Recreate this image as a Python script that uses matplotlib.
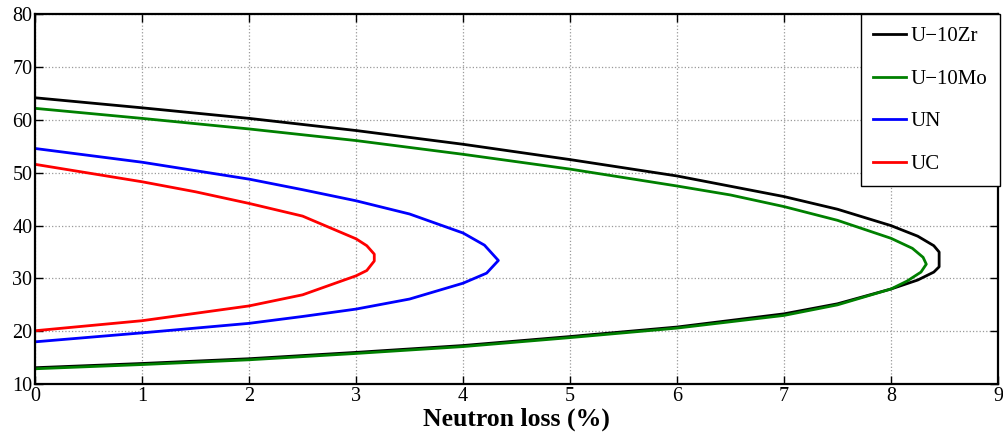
import matplotlib
matplotlib.use('Agg')
from matplotlib import pyplot as plt

plt.rcParams['font.family'] = ['Liberation Serif', 'DejaVu Serif']

# neutron loss (%) vs position
zr_x = [0, 1, 2, 3, 4, 5, 6, 7, 7.5, 8, 8.25, 8.4, 8.45, 8.45, 8.4, 8.25, 8, 7.5, 7, 6, 5, 4, 3, 2, 1, 0]
zr_y = [64.2, 62.3, 60.3, 58.0, 55.4, 52.5, 49.4, 45.5, 43.1, 40.0, 38.0, 36.2, 35.0, 32.2, 31.2, 29.7, 28.0, 25.2, 23.3, 20.8, 19.0, 17.3, 16.0, 14.8, 13.9, 13.1]

mo_x = [0, 1, 2, 3, 4, 5, 6, 6.5, 7, 7.5, 8, 8.2, 8.3, 8.33, 8.28, 8.15, 8, 7.5, 7, 6, 5, 4, 3, 2, 1, 0]
mo_y = [62.2, 60.3, 58.3, 56.1, 53.5, 50.7, 47.5, 45.8, 43.6, 41.0, 37.6, 35.7, 34.0, 32.7, 31.2, 29.5, 28.0, 25.0, 23.0, 20.6, 18.8, 17.1, 15.8, 14.6, 13.7, 12.9]

un_x = [0, 1, 2, 2.5, 3, 3.5, 4, 4.2, 4.33, 4.22, 4, 3.5, 3, 2.5, 2, 1, 0]
un_y = [54.6, 52.0, 48.8, 46.8, 44.7, 42.2, 38.6, 36.3, 33.4, 31.0, 29.1, 26.1, 24.2, 22.8, 21.5, 19.7, 18.0]

uc_x = [0, 1, 1.5, 2, 2.5, 3, 3.1, 3.17, 3.17, 3.1, 3, 2.5, 2, 1, 0]
uc_y = [51.6, 48.3, 46.4, 44.2, 41.8, 37.5, 36.2, 34.6, 33.3, 31.5, 30.5, 26.9, 24.8, 22.0, 20.1]

series = [
    (zr_x, zr_y, 'black', 'U\u221210Zr'),
    (mo_x, mo_y, '#008000', 'U\u221210Mo'),
    (un_x, un_y, 'blue', 'UN'),
    (uc_x, uc_y, 'red', 'UC'),
]

fig = plt.figure(figsize=(10.04, 4.34), dpi=100)
ax = fig.add_axes([0.035, 0.115, 0.959, 0.852])

for x, y, c, lab in series:
    ax.plot(x, y, color=c, linewidth=2, label=lab)

ax.set_xlim(0, 9)
ax.set_ylim(10, 80)
ax.set_xticks(range(0, 10))
ax.set_yticks(range(10, 90, 10))
ax.grid(True, linestyle=':', color='#999999', linewidth=0.9)
ax.tick_params(direction='in', top=True, right=True, labelsize=14.5, length=6, width=1, pad=2)
for s in ax.spines.values():
    s.set_linewidth(1.6)

ax.set_xlabel('Neutron loss (%)', fontsize=18.5, fontweight='bold', labelpad=1)

leg = ax.legend(loc='upper right', fontsize=15, fancybox=False, framealpha=1,
                edgecolor='black', borderaxespad=0, labelspacing=1.1,
                handlelength=1.6, handletextpad=0.2, borderpad=0.6,
                bbox_to_anchor=(1.002, 1.0))
leg.get_frame().set_linewidth(1.0)

fig.savefig('out.png', dpi=100)
